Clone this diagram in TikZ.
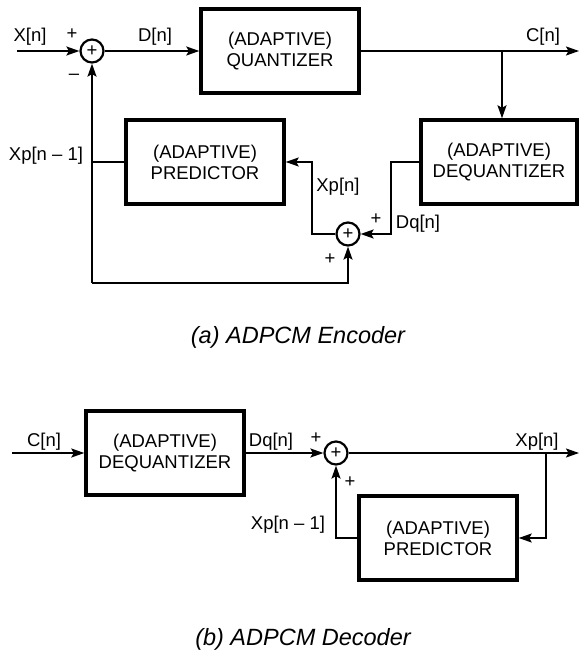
\documentclass[tikz,border=0pt]{standalone}
\usepackage{fontspec}
\setmainfont{Liberation Sans}
\usetikzlibrary{arrows.meta}
\begin{document}
\begin{tikzpicture}[x=1pt,y=-1pt,
  font=\fontsize{18.5}{21}\selectfont,
  blk/.style={draw,line width=3.4pt,minimum width=158pt,minimum height=84pt,inner sep=0pt,align=center},
  sumc/.style={draw,circle,line width=2.2pt,minimum size=23pt,inner sep=0pt},
  wire/.style={line width=1.6pt},
  arr/.style={wire,-{Stealth[length=13pt,width=9pt,inset=2.5pt]}},
  lbl/.style={anchor=base,inner sep=0pt},
  sgn/.style={inner sep=0pt},
  captext/.style={anchor=base,inner sep=0pt,font=\fontsize{23.5}{28}\selectfont\itshape}]
\useasboundingbox (0,0) rectangle (579,652);
% ---------------- Encoder ----------------
\node[sumc] (s1) at (92,51) {+};
\node[blk] (q) at (280,51) {(ADAPTIVE)\\QUANTIZER};
\node[blk,minimum width=156pt] (dq) at (499,162) {(ADAPTIVE)\\DEQUANTIZER};
\node[blk] (p) at (205,162) {(ADAPTIVE)\\PREDICTOR};
\node[sumc] (s2) at (348,234) {+};
\coordinate (in1) at (17,51);
\coordinate (out1) at (579,51);
\coordinate (br1) at (502,51);
\coordinate (c1) at (92,283);
\coordinate (k1) at (391,162);
\coordinate (k2) at (312,234);
\draw[arr] (in1) -- (s1);
\draw[arr] (s1) -- (q);
\draw[arr] (q) -- (out1);
\draw[arr] (br1) -- (br1 |- dq.north);
\draw[arr] (dq.west) -- (k1) |- (s2);
\draw[arr] (s2) -- (k2) |- (p);
\draw[wire] (p.west) -- (p.west -| c1);
\draw[arr] (c1) -- (s1);
\draw[arr] (c1) -| (s2);
\node[lbl] (lx) at (30,42) {X[n]};
\node[sgn] (pa) at (72,34) {+};
\node[sgn] (ma) at (74,77) {–};
\node[lbl] (ld) at (155,42) {D[n]};
\node[lbl] (lc) at (543,42) {C[n]};
\node[lbl] (lxp1) at (46,161) {Xp[n – 1]};
\node[lbl] (lxp) at (338,192) {Xp[n]};
\node[sgn] (pb) at (376,219) {+};
\node[lbl] (ldq) at (418,229) {Dq[n]};
\node[sgn] (pc) at (330,259) {+};
\node[captext] (capa) at (298,343) {(a) ADPCM Encoder};
% ---------------- Decoder ----------------
\coordinate (in2) at (12,453);
\node[blk] (dq2) at (165,453) {(ADAPTIVE)\\DEQUANTIZER};
\node[sumc] (s3) at (336,453) {+};
\coordinate (out2) at (579,453);
\coordinate (br2) at (546,453);
\node[blk] (p2) at (438,538) {(ADAPTIVE)\\PREDICTOR};
\draw[arr] (in2) -- (dq2);
\draw[arr] (dq2) -- (s3);
\draw[arr] (s3) -- (out2);
\draw[arr] (br2) |- (p2);
\draw[arr] (p2) -| (s3);
\node[lbl] (lc2) at (44,446) {C[n]};
\node[lbl] (ldq2) at (271,446) {Dq[n]};
\node[sgn] (pd) at (316,438) {+};
\node[lbl] (lxp2) at (537,446) {Xp[n]};
\node[sgn] (pe) at (350,482) {+};
\node[lbl] (lxp12) at (288,529) {Xp[n – 1]};
\node[captext] (capb) at (303,645) {(b) ADPCM Decoder};
\end{tikzpicture}
\end{document}
